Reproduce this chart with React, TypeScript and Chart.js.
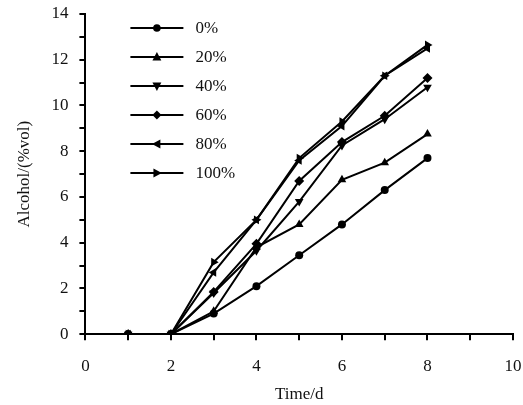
import React, { useEffect, useRef } from "react";
import { Chart, registerables } from "chart.js";

Chart.register(...registerables);

const days = [1, 2, 3, 4, 5, 6, 7, 8];
const seriesNames = ["0%", "20%", "40%", "60%", "80%", "100%"];
const s0 = [0, 0, 0.9, 2.1, 3.45, 4.8, 6.3, 7.7];
const s20 = [0, 0, 1.0, 3.8, 4.8, 6.75, 7.5, 8.75];
const s40 = [0, 0, 1.8, 3.65, 5.8, 8.25, 9.4, 10.8];
const s60 = [0, 0, 1.85, 3.95, 6.7, 8.4, 9.55, 11.2];
const s80 = [0, 0, 2.7, 5.0, 7.6, 9.1, 11.3, 12.5];
const s100 = [0, 0, 3.15, 5.0, 7.7, 9.3, 11.3, 12.65];
const allSeries = [s0, s20, s40, s60, s80, s100];
const markerStyles = ["circle", "triangle", "triangle", "rectRot", "triangle", "triangle"];
const markerRotations = [0, 0, 180, 0, -90, 90];
const xTicks = [0, 2, 4, 6, 8, 10];
const yTicks = [0, 2, 4, 6, 8, 10, 12, 14];

const FONT = "'Liberation Serif', 'DejaVu Serif', serif";
const FS = 17;

function drawMarker(ctx: CanvasRenderingContext2D, style: string, rot: number, x: number, y: number, r: number) {
  ctx.save();
  ctx.translate(x, y);
  ctx.rotate((rot * Math.PI) / 180);
  ctx.beginPath();
  if (style === "circle") {
    ctx.arc(0, 0, r, 0, Math.PI * 2);
  } else if (style === "triangle") {
    const h = r * 1.3;
    ctx.moveTo(0, -h);
    ctx.lineTo(h * 0.9, h * 0.7);
    ctx.lineTo(-h * 0.9, h * 0.7);
    ctx.closePath();
  } else {
    const h = r * 1.2;
    ctx.moveTo(0, -h);
    ctx.lineTo(h, 0);
    ctx.lineTo(0, h);
    ctx.lineTo(-h, 0);
    ctx.closePath();
  }
  ctx.fillStyle = "#000";
  ctx.fill();
  ctx.restore();
}

const legendPlugin = {
  id: "insideLegend",
  afterDraw(chart: any) {
    const ctx = chart.ctx as CanvasRenderingContext2D;
    const area = chart.chartArea;
    ctx.save();
    seriesNames.forEach((name, i) => {
      const y = area.top + 14 + i * 29;
      const x0 = area.left + 45;
      const x1 = x0 + 53;
      ctx.strokeStyle = "#000";
      ctx.lineWidth = 2;
      ctx.beginPath();
      ctx.moveTo(x0, y);
      ctx.lineTo(x1, y);
      ctx.stroke();
      drawMarker(ctx, markerStyles[i], markerRotations[i], (x0 + x1) / 2, y, 3.8);
      ctx.fillStyle = "#111";
      ctx.font = `${FS}px ${FONT}`;
      ctx.textAlign = "left";
      ctx.textBaseline = "middle";
      ctx.fillText(name, x1 + 12, y + 1);
    });
    ctx.restore();
  },
};

export default function App() {
  const ref = useRef<HTMLCanvasElement>(null);
  useEffect(() => {
    document.body.style.margin = "0";
    const canvas = ref.current!;
    const chart = new Chart(canvas, {
      type: "line",
      data: {
        datasets: allSeries.map((s, i) => ({
          label: seriesNames[i],
          data: s.map((v, j) => ({ x: days[j], y: v })),
          borderColor: "#000",
          backgroundColor: "#000",
          borderWidth: 2,
          pointStyle: markerStyles[i] as any,
          rotation: markerRotations[i],
          pointRadius: markerStyles[i] === "circle" ? 4 : 5,
          pointBorderWidth: 0,
          tension: 0,
        })),
      },
      options: {
        animation: false,
        responsive: false,
        layout: { padding: { top: 14, right: 10, left: 10, bottom: 0 } },
        plugins: { legend: { display: false }, tooltip: { enabled: false } },
        scales: {
          x: {
            type: "linear",
            min: 0,
            max: 10,
            afterFit: (s: any) => {
              s.paddingRight = 0;
              s.paddingLeft = 0;
            },
            border: { display: true, color: "#000", width: 2 },
            grid: { display: true, drawOnChartArea: false, drawTicks: true, tickLength: 6, color: "#000", lineWidth: 2 } as any,
            ticks: {
              stepSize: 1,
              color: "#111",
              font: { family: FONT, size: FS },
              padding: 16,
              maxRotation: 0,
              autoSkip: false,
              callback: (v: any) => (xTicks.includes(Number(v)) ? String(v) : ""),
            },
            title: { display: true, text: "Time/d", color: "#111", font: { family: FONT, size: FS }, padding: { top: -8, bottom: 0 } },
          },
          y: {
            min: 0,
            max: 14,
            afterFit: (s: any) => {
              s.paddingTop = 0;
              s.paddingBottom = 0;
            },
            border: { display: true, color: "#000", width: 2 },
            grid: { display: true, drawOnChartArea: false, drawTicks: true, tickLength: 6, color: "#000", lineWidth: 2 } as any,
            ticks: {
              stepSize: 1,
              color: "#111",
              font: { family: FONT, size: FS },
              padding: 11,
              autoSkip: false,
              callback: (v: any) => (yTicks.includes(Number(v)) ? String(v) : ""),
            },
            title: { display: true, text: "Alcohol/(%vol)", color: "#111", font: { family: FONT, size: FS }, padding: { top: 4, bottom: 6 } },
          },
        },
      },
      plugins: [legendPlugin],
    });
    return () => chart.destroy();
  }, []);
  return <canvas ref={ref} width={523} height={405} style={{ display: "block" }} />;
}
